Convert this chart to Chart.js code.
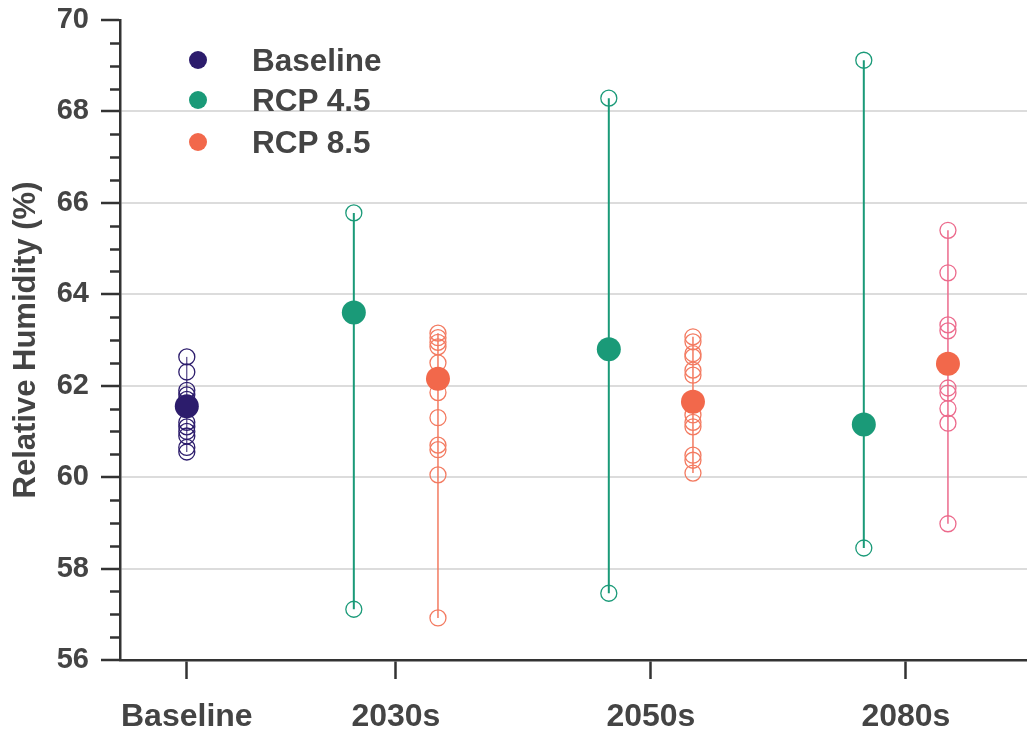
<!DOCTYPE html>
<html>
<head>
<meta charset="utf-8">
<script src="https://cdn.jsdelivr.net/npm/chart.js@4"></script>
<style>
  html, body { margin: 0; padding: 0; background: #fff; }
  #wrap { position: relative; width: 1027px; height: 731px; }
  #legend { position: absolute; left: 0; top: 0; font-family: 'Liberation Sans', Arial, sans-serif; font-weight: bold; color: #444; }
  .item { position: absolute; left: 189px; height: 32px; display: flex; align-items: center; font-size: 31.5px; white-space: nowrap; }
  .dot { width: 18px; height: 18px; border-radius: 50%; margin-right: 45px; }
</style>
</head>
<body>
<div id="wrap">
  <canvas id="rhChart"></canvas>
  <div id="legend"></div>
</div>
<script>
// Categories and where they sit on the x axis
const categories = ['Baseline', '2030s', '2050s', '2080s'];
const catPos = [0.18, 1, 2, 3];

// Ensemble means (filled dots)
const baselineMean = [61.55];
const rcp45Mean = [63.6, 62.8, 61.15];
const rcp85Mean = [62.15, 61.65, 62.48];

// Individual model runs (open circles), one list per period
const baselineRuns = [[62.63, 62.3, 61.9, 61.8, 61.7, 61.2, 61.1, 61.0, 60.9, 60.65, 60.55]];
const rcp45Runs = [
    [65.78, 57.11],
    [68.29, 57.46],
    [69.12, 58.45]
];
const rcp85Runs = [
    [63.15, 63.05, 62.95, 62.85, 62.5, 61.85, 61.3, 60.7, 60.6, 60.05, 56.92],
    [63.07, 62.96, 62.7, 62.63, 62.34, 62.23, 61.36, 61.2, 61.1, 60.48, 60.37, 60.09],
    [65.4, 64.47, 63.33, 63.2, 61.95, 61.84, 61.5, 61.18, 58.98]
];

// y axis
const yMin = 56, yMax = 70, yStep = 2, yMinorStep = 0.5;

// Styles
const colBase = '#2c1c6c';
const col45 = '#1a9a78';
const col85 = '#f2684b';
const col85Runs = ['#f37a60', '#f37a60', '#ec6a8c'];
const shift45 = -0.165, shift85 = 0.165;
const textCol = '#444';
const axisCol = '#333';
const fontFam = "'Liberation Sans', Arial, sans-serif";

// Build datasets
let datasets = [];

function addGroup(x, runs, mean, runColor, lineColor, meanColor, lineW) {
    const lo = Math.min(...runs), hi = Math.max(...runs);
    datasets.push({
        type: 'line', data: [{x: x, y: lo}, {x: x, y: hi}],
        borderColor: lineColor, borderWidth: lineW, pointRadius: 0, showLine: true, order: 3
    });
    datasets.push({
        type: 'scatter', data: runs.map(v => ({x: x, y: v})),
        pointRadius: 8, pointBorderWidth: 1.3, pointBackgroundColor: 'rgba(255,255,255,0)',
        pointBorderColor: runColor, order: 2
    });
    datasets.push({
        type: 'scatter', data: [{x: x, y: mean}],
        pointRadius: 12, pointBorderWidth: 0, pointBackgroundColor: meanColor, order: 1
    });
}

addGroup(catPos[0], baselineRuns[0], baselineMean[0], colBase, colBase, colBase, 1);
for (let i = 0; i < 3; i++) {
    addGroup(catPos[i + 1] + shift45, rcp45Runs[i], rcp45Mean[i], col45, col45, col45, 2);
    addGroup(catPos[i + 1] + shift85, rcp85Runs[i], rcp85Mean[i], col85Runs[i], col85Runs[i], col85, 1.5);
}

// Minor ticks on the y axis
const minorTicks = {
    id: 'minorTicks',
    afterDraw(chart) {
        const s = chart.scales.y;
        const c = chart.ctx;
        c.save();
        c.strokeStyle = axisCol;
        c.lineWidth = 2.5;
        for (let v = yMin; v <= yMax + 1e-9; v += yMinorStep) {
            if (Math.abs(v % yStep) < 1e-9) continue;
            const y = Math.round(s.getPixelForValue(v)) + 0.5;
            c.beginPath();
            c.moveTo(s.right - 10, y);
            c.lineTo(s.right, y);
            c.stroke();
        }
        c.restore();
    }
};

const ctx = document.getElementById('rhChart').getContext('2d');
const chart = new Chart(ctx, {
    data: { datasets: datasets },
    options: {
        responsive: true,
        maintainAspectRatio: false,
        animation: false,
        layout: { autoPadding: false, padding: { top: 20, right: 0, left: 0, bottom: 0 } },
        plugins: { legend: { display: false }, tooltip: { enabled: false } },
        scales: {
            x: {
                type: 'linear',
                min: -0.082, max: 3.475,
                afterBuildTicks: s => { s.ticks = catPos.map(v => ({value: v})); },
                afterFit: s => { s.height = 71; s.paddingLeft = 0; s.paddingRight = 0; },
                ticks: {
                    autoSkip: false, maxRotation: 0, padding: 19,
                    color: textCol, font: { family: fontFam, size: 32, weight: 'bold' },
                    callback: (v, i) => categories[i]
                },
                grid: { drawOnChartArea: false, tickLength: 19, tickColor: axisCol, tickWidth: 2.5 },
                border: { display: true, color: axisCol, width: 2.5 }
            },
            y: {
                min: yMin, max: yMax,
                afterFit: s => { s.width = 120; s.paddingTop = 0; s.paddingBottom = 0; },
                ticks: {
                    stepSize: yStep, padding: 12,
                    color: textCol, font: { family: fontFam, size: 29, weight: 'bold' }
                },
                grid: {
                    color: c => (c.tick && c.tick.value === yMax) ? 'rgba(0,0,0,0)' : '#dcdcdc',
                    lineWidth: 2, tickLength: 19, tickColor: axisCol, tickWidth: 2.5
                },
                border: { display: true, color: axisCol, width: 2.5 },
                title: {
                    display: true, text: 'Relative Humidity (%)', color: textCol,
                    font: { family: fontFam, size: 31, weight: 'bold' },
                    padding: { top: 8, bottom: 0 }
                }
            }
        }
    },
    plugins: [minorTicks]
});

// Legend (HTML overlay)
const legendItems = [
    { label: 'Baseline', color: colBase, top: 44 },
    { label: 'RCP 4.5', color: col45, top: 84 },
    { label: 'RCP 8.5', color: col85, top: 126 }
];
const lg = document.getElementById('legend');
legendItems.forEach(it => {
    const d = document.createElement('div');
    d.className = 'item';
    d.style.top = it.top + 'px';
    d.innerHTML = '<span class="dot" style="background:' + it.color + '"></span>' + it.label;
    lg.appendChild(d);
});
</script>
</body>
</html>
